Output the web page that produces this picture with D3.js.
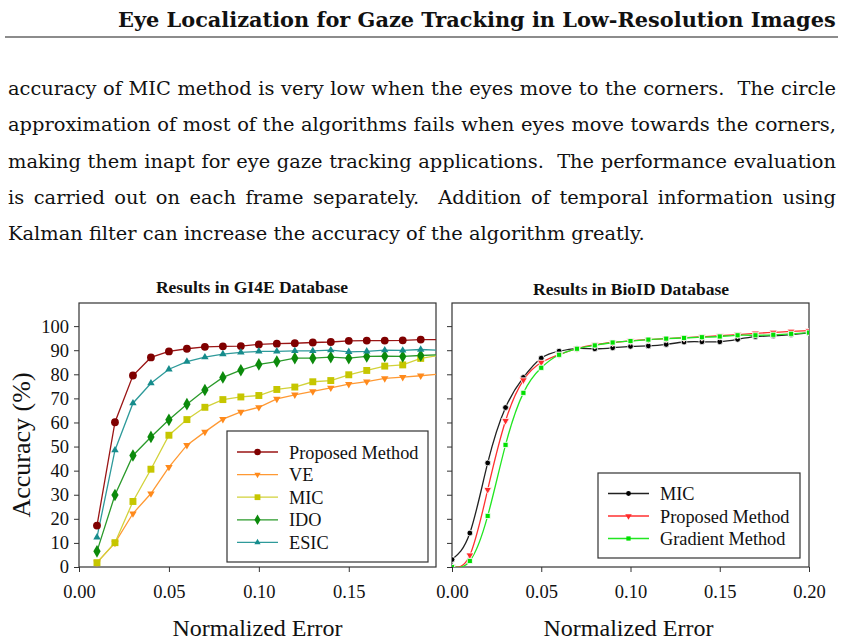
<!DOCTYPE html>
<html>
<head>
<meta charset="utf-8">
<script src="https://cdn.jsdelivr.net/npm/d3@7"></script>
<style>
  body { margin: 0; background: #fff; }
  svg text { font-family: "Liberation Serif", "Times New Roman", serif; fill: #111; }
  svg text.page { font-family: "DejaVu Serif", serif; }
</style>
</head>
<body>
<svg id="page" width="843" height="643"></svg>
<script>
// ---- page text ----
var headerText = 'Eye Localization for Gaze Tracking in Low-Resolution Images';
var bodyLines = [
  'accuracy of MIC method is very low when the eyes move to the corners.  The circle',
  'approximation of most of the algorithms fails when eyes move towards the corners,',
  'making them inapt for eye gaze tracking applications.  The performance evaluation',
  'is carried out on each frame separately.  Addition of temporal information using',
  'Kalman filter can increase the accuracy of the algorithm greatly.'
];

// ---- GI4E chart data ----
var gi4eError = [0.01, 0.02, 0.03, 0.04, 0.05, 0.06, 0.07, 0.08, 0.09, 0.10,
  0.11, 0.12, 0.13, 0.14, 0.15, 0.16, 0.17, 0.18, 0.19, 0.20];
var gi4eProposed = [17.2, 60.1, 79.5, 87.0, 89.5, 90.6, 91.4, 91.6, 91.7, 92.4,
  92.7, 92.9, 93.2, 93.4, 93.9, 94.0, 94.0, 94.1, 94.4, 94.4];
var gi4eVE = [1.8, 10.0, 22.2, 30.5, 41.5, 50.6, 56.1, 61.4, 64.4, 66.3,
  69.8, 71.5, 72.9, 74.4, 75.9, 77.0, 78.3, 78.8, 79.4, 80.1];
var gi4eMIC = [1.8, 10.1, 27.2, 40.6, 54.7, 61.2, 66.3, 69.5, 70.6, 71.2,
  73.7, 74.7, 76.9, 77.4, 79.8, 81.6, 83.4, 83.9, 86.6, 87.8];
var gi4eIDO = [6.5, 29.9, 46.3, 54.0, 61.1, 67.6, 73.5, 78.7, 81.7, 84.1,
  85.3, 86.7, 86.7, 87.1, 86.7, 87.4, 87.5, 87.4, 87.8, 88.1];
var gi4eESIC = [12.3, 48.5, 68.0, 76.3, 82.1, 85.3, 87.1, 88.4, 89.1, 89.5,
  89.5, 89.7, 89.7, 90.0, 89.3, 89.5, 90.0, 89.9, 90.3, 90.0];

// ---- BioID chart data ----
var bioidError = [0.00, 0.01, 0.02, 0.03, 0.04, 0.05, 0.06, 0.07, 0.08, 0.09, 0.10,
  0.11, 0.12, 0.13, 0.14, 0.15, 0.16, 0.17, 0.18, 0.19, 0.20];
var bioidMIC = [3.1, 14.1, 43.2, 66.2, 78.7, 86.7, 89.6, 90.7, 90.6, 91.0, 91.6,
  91.8, 92.4, 93.4, 93.5, 93.5, 94.5, 95.6, 96.0, 96.5, 97.2];
var bioidProposed = [0.0, 4.9, 32.1, 60.7, 77.6, 84.9, 88.2, 90.7, 92.3, 93.2, 93.9,
  94.4, 94.8, 95.2, 95.6, 96.0, 96.5, 97.0, 97.4, 97.8, 98.1];
var bioidGradient = [0.0, 2.5, 21.2, 50.7, 72.3, 82.7, 88.1, 90.6, 92.0, 93.2, 93.8,
  94.4, 94.8, 95.1, 95.4, 95.7, 96.2, 96.2, 96.4, 96.8, 97.3];

var yTicks = [0, 10, 20, 30, 40, 50, 60, 70, 80, 90, 100];
var gi4eXTicks = [0, 0.05, 0.10, 0.15];
var bioidXTicks = [0, 0.05, 0.10, 0.15, 0.20];

var svg = d3.select('#page');

function drawPageText() {
  var header = svg.append('text')
    .attr('class', 'page')
    .attr('y', 27)
    .attr('font-size', 20)
    .attr('font-weight', 'bold')
    .text(headerText);
  var hw = header.node().getComputedTextLength();
  header.attr('font-size', 20 * 718 / hw)
    .attr('x', 836 - 718);

  svg.append('line')
    .attr('x1', 5).attr('x2', 838)
    .attr('y1', 37).attr('y2', 37)
    .attr('stroke', '#666')
    .attr('stroke-width', 1.5);

  var lines = svg.selectAll('text.body')
    .data(bodyLines)
    .enter().append('text')
    .attr('class', 'page body')
    .attr('x', 8)
    .attr('y', function(d, i) { return 95 + i * 36.3; })
    .attr('font-size', 20)
    .attr('xml:space', 'preserve')
    .text(function(d) { return d; });

  // size from the widest line, then justify all but the last line by word spacing
  var widest = d3.max(lines.nodes().slice(0, 4), function(n) { return n.getComputedTextLength(); });
  lines.attr('font-size', 20 * 824 / widest);
  lines.each(function(d, i) {
    if (i === 4) return;
    var w = this.getComputedTextLength();
    var gaps = d.split(' ').length - 1;
    d3.select(this).attr('word-spacing', (828 - w) / gaps);
  });
}

function makeSeries(xs, ys) {
  return xs.map(function(x, i) { return {x: x, y: ys[i]}; });
}

function markerTransform(s, px, py) {
  return 'translate(' + px + ',' + py + ')' + (s.flip ? ' rotate(180)' : '');
}

function drawChart(opts) {
  var x = d3.scaleLinear().domain([0, opts.xMax]).range([opts.left, opts.right]);
  var y = d3.scaleLinear().domain([0, 109.6]).range([567, 303]);

  var g = svg.append('g').attr('class', 'chart');

  g.append('clipPath')
    .attr('id', opts.id + '-clip')
    .append('rect')
    .attr('x', opts.left).attr('y', 303)
    .attr('width', opts.right - opts.left).attr('height', 264);

  // axes
  var yAxis = d3.axisLeft(y).tickValues(yTicks).tickSize(5).tickPadding(5);
  if (!opts.yLabels) yAxis.tickFormat('');
  g.append('g')
    .attr('transform', 'translate(' + opts.left + ',0)')
    .call(yAxis)
    .call(styleAxis);

  g.append('g')
    .attr('transform', 'translate(0,567)')
    .call(d3.axisBottom(x).tickValues(opts.xTicks).tickFormat(d3.format('.2f'))
      .tickSize(5).tickPadding(13))
    .call(styleAxis);

  // frame
  g.append('rect')
    .attr('x', opts.left).attr('y', 303)
    .attr('width', opts.right - opts.left).attr('height', 264)
    .attr('fill', 'none')
    .attr('stroke', '#333')
    .attr('stroke-width', 1.2);

  // lines and markers
  var line = d3.line()
    .x(function(d) { return x(d.x); })
    .y(function(d) { return y(d.y); })
    .curve(opts.curve);

  var plot = g.append('g').attr('clip-path', 'url(#' + opts.id + '-clip)');

  opts.series.forEach(function(s) {
    plot.append('path')
      .datum(s.points)
      .attr('fill', 'none')
      .attr('stroke', s.line)
      .attr('stroke-width', 1.3)
      .attr('d', line);
  });

  opts.series.forEach(function(s) {
    plot.selectAll(null)
      .data(s.points.filter(function(d) { return d.x <= opts.xMax; }))
      .enter().append('path')
      .attr('transform', function(d) { return markerTransform(s, x(d.x), y(d.y)); })
      .attr('d', d3.symbol().type(s.symbol).size(s.size))
      .attr('fill', s.color)
      .attr('stroke', opts.halo ? '#fff' : 'none')
      .attr('stroke-width', opts.halo ? 0.8 : 0);
  });

  // titles
  g.append('text')
    .attr('x', opts.titleX).attr('y', opts.titleY)
    .attr('text-anchor', 'middle')
    .attr('font-size', 17.5)
    .attr('font-weight', 'bold')
    .text(opts.title);

  g.append('text')
    .attr('x', (opts.left + opts.right) / 2 + opts.xLabelShift)
    .attr('y', 636)
    .attr('text-anchor', 'middle')
    .attr('font-size', 24)
    .text('Normalized Error');

  if (opts.yLabels) {
    g.append('text')
      .attr('transform', 'translate(30,445) rotate(-90)')
      .attr('text-anchor', 'middle')
      .attr('font-size', 26)
      .text('Accuracy (%)');
  }

  drawLegend(g, opts.legend, opts.series);
}

function styleAxis(sel) {
  sel.select('.domain').remove();
  sel.selectAll('.tick line').attr('stroke', '#333');
  sel.selectAll('.tick text').attr('font-size', 18.5).attr('fill', '#111')
    .attr('font-family', '"Liberation Serif", serif');
}

function drawLegend(g, lg, series) {
  var box = g.append('g');
  box.append('rect')
    .attr('x', lg.x).attr('y', lg.y)
    .attr('width', lg.w).attr('height', lg.h)
    .attr('fill', '#fff')
    .attr('stroke', '#333')
    .attr('stroke-width', 1.2);

  series.forEach(function(s, i) {
    var cy = lg.firstY + i * lg.step;
    box.append('line')
      .attr('x1', lg.lineX1).attr('x2', lg.lineX2)
      .attr('y1', cy).attr('y2', cy)
      .attr('stroke', s.line)
      .attr('stroke-width', 1.3);
    box.append('path')
      .attr('transform', markerTransform(s, (lg.lineX1 + lg.lineX2) / 2, cy))
      .attr('d', d3.symbol().type(s.symbol).size(s.size * 0.7))
      .attr('fill', s.color);
    box.append('text')
      .attr('x', lg.textX).attr('y', cy + 6.5)
      .attr('font-size', 18.3)
      .text(s.name);
  });
}

drawPageText();

drawChart({
  id: 'gi4e',
  left: 79, right: 436, xMax: 0.1985,
  xTicks: gi4eXTicks,
  yLabels: true,
  curve: d3.curveLinear,
  halo: false,
  title: 'Results in GI4E Database', titleX: 252, titleY: 293,
  xLabelShift: 0,
  series: [
    {name: 'Proposed Method', points: makeSeries(gi4eError, gi4eProposed), color: '#7f0000', line: '#9a1515', symbol: d3.symbolCircle, size: 48},
    {name: 'VE', points: makeSeries(gi4eError, gi4eVE), color: '#ff8a1c', line: '#ff9933', symbol: d3.symbolTriangle, size: 24, flip: true},
    {name: 'MIC', points: makeSeries(gi4eError, gi4eMIC), color: '#c6c600', line: '#d2d23a', symbol: d3.symbolSquare, size: 48},
    {name: 'IDO', points: makeSeries(gi4eError, gi4eIDO), color: '#0b8a0b', line: '#2a9a2a', symbol: d3.symbolDiamond, size: 46},
    {name: 'ESIC', points: makeSeries(gi4eError, gi4eESIC), color: '#168c8c', line: '#2e9a9a', symbol: d3.symbolTriangle, size: 24}
  ],
  legend: {x: 227, y: 431, w: 201, h: 131, firstY: 452, step: 22.6,
    lineX1: 237, lineX2: 278, textX: 289}
});

drawChart({
  id: 'bioid',
  left: 452, right: 809, xMax: 0.20,
  xTicks: bioidXTicks,
  yLabels: false,
  curve: d3.curveNatural,
  halo: true,
  title: 'Results in BioID Database', titleX: 631, titleY: 295,
  xLabelShift: -2,
  series: [
    {name: 'MIC', points: makeSeries(bioidError, bioidMIC), color: '#000', line: '#222', symbol: d3.symbolCircle, size: 26},
    {name: 'Proposed Method', points: makeSeries(bioidError, bioidProposed), color: '#ff2a2a', line: '#ff3030', symbol: d3.symbolTriangle, size: 26, flip: true},
    {name: 'Gradient Method', points: makeSeries(bioidError, bioidGradient), color: '#00e000', line: '#22e622', symbol: d3.symbolSquare, size: 26}
  ],
  legend: {x: 598, y: 473, w: 202, h: 85, firstY: 493.5, step: 22.5,
    lineX1: 608, lineX2: 649, textX: 660}
});
</script>
</body>
</html>
